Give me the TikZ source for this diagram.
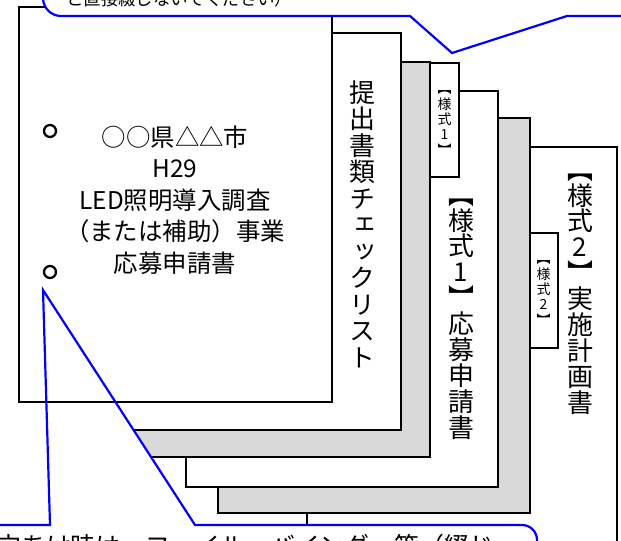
\documentclass[tikz,border=0pt]{standalone}
\usepackage{fontspec}
\setmainfont{Noto Sans CJK JP}
\newfontfamily\vfont[RawFeature=+vert]{Noto Sans CJK JP}
\definecolor{sheetgray}{RGB}{217,217,217}
\definecolor{calloutblue}{RGB}{0,0,255}
\begin{document}
\begin{tikzpicture}[x=1bp,y=-1bp,
  sheet/.style={draw=black,line width=2.3bp,fill=white},
  graysheet/.style={sheet,fill=sheetgray},
  calloutline/.style={draw=calloutblue,line width=2.2bp,line join=miter},
  vlabel/.style={font=\vfont\fontsize{26}{26}\selectfont,align=center,inner sep=0pt},
  tablabel/.style={font=\vfont\fontsize{14}{15.5}\selectfont,align=center,inner sep=0pt},
  hole/.style={draw=black,line width=2.3bp}]
\useasboundingbox (0,0) rectangle (621,541);
\clip (0,0) rectangle (621,541);
% back sheets
\draw[sheet] (307,147) rectangle (617,620);
\draw[sheet] (529,233) rectangle (558,348);
\draw[graysheet] (218,118) rectangle (530,513);
\draw[sheet] (186,91) rectangle (498,487);
\draw[sheet] (430,63) rectangle (459,177);
\draw[graysheet] (120,62) rectangle (430,457);
\draw[sheet] (90,33) rectangle (401,430);
% sheet labels
\node[vlabel] (form2) at (580,294) {︻\\様\\式\\2\\︼\\実\\施\\計\\画\\書};
\node[tablabel] (tab2) at (543.5,293) {︻\\様\\式\\2\\︼};
\node[vlabel] (form1) at (461,319) {︻\\様\\式\\1\\︼\\応\\募\\申\\請\\書};
\node[tablabel] (tab1) at (444.5,123) {︻\\様\\式\\1\\︼};
\node[vlabel,font=\vfont\fontsize{26}{26.6}\selectfont] (check) at (362,224) {提\\出\\書\\類\\チ\\ェ\\ッ\\ク\\リ\\ス\\ト};
% bottom callout fill
\fill[white] (-20,525) -- (50,525) -- (43,290) -- (195,525) -- (522,525)
  .. controls (530.3,525) and (537,531.7) .. (537,540) -- (537,620) -- (-20,620) -- cycle;
% cover
\draw[sheet] (19,7) rectangle (332,402);
\draw[hole] (50,131) circle[radius=6];
\draw[hole] (50,272) circle[radius=6];
\node[align=center,font=\fontsize{24.5}{31.5}\selectfont,inner sep=0pt] (cover) at (175,200)
  {○○県△△市\\H29\\LED照明導入調査\\（または補助）事業\\応募申請書};
% bottom callout outline
\draw[calloutline] (-20,525) -- (50,525) -- (43,290) -- (195,525) -- (522,525)
  .. controls (530.3,525) and (537,531.7) .. (537,540) -- (537,620);
\node[anchor=base west,font=\fontsize{25}{30}\selectfont,inner sep=0pt] (bottomtext) at (-4,555)
  {穴あけ時は、ファイル・バインダー等（綴じ};
% top callout
\draw[calloutline,fill=white] (43,-60) -- (43,-2) .. controls (43,7.9) and (51.1,16) .. (61,16)
  -- (410,16) -- (452,53) -- (567,16) -- (680,16) -- (680,-60) -- cycle;
\node[anchor=base west,font=\fontsize{17.5}{22}\selectfont,inner sep=0pt] (toptext) at (66,6)
  {と直接綴じないでください）};
\end{tikzpicture}
\end{document}
